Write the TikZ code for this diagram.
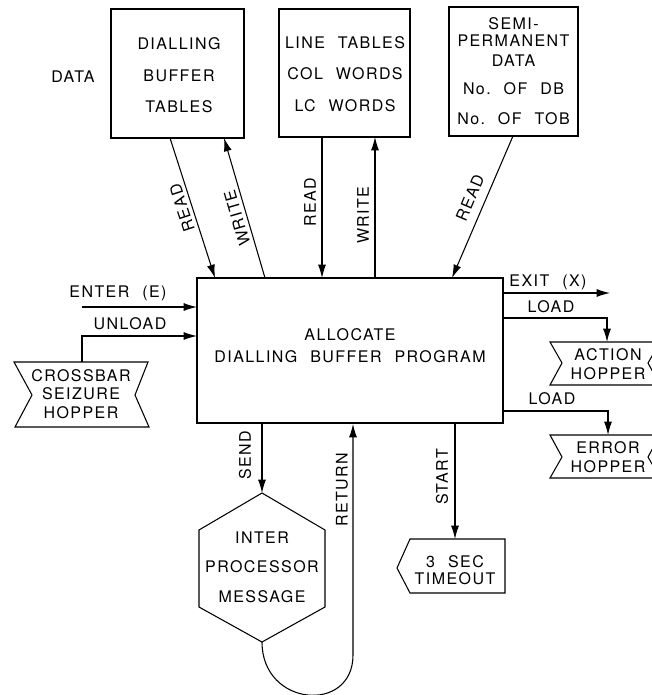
\documentclass[tikz,border=0pt]{standalone}
\usepackage{fontspec}
\setmainfont{TeX Gyre Heros}[LetterSpace=9,WordSpace=2.2]
\usetikzlibrary{arrows.meta}
\newcommand\dfont{\fontsize{12}{14}\selectfont}
\begin{document}
\begin{tikzpicture}[x=0.75pt,y=-0.75pt,line width=0.8pt,
  box/.style={draw,rectangle,inner sep=0pt},
  txt/.style={font=\dfont,align=center,inner sep=0pt},
  arr/.style={-{Latex[length=10pt,width=6pt]}}]
\useasboundingbox (0,0) rectangle (652,695);
\clip (0,0) rectangle (652,695);

% ---- boxes ----
\node[box,minimum width=99.75pt,minimum height=96.75pt] (db) at (177.5,73.5) {};
\node[txt] (dbt) at (179,75) {DIALLING\\[10pt]BUFFER\\[9pt]TABLES};
\node[txt] (data) at (73,77) {DATA};

\node[box,minimum width=98.25pt,minimum height=96pt] (lt) at (344.5,73) {};
\node[txt] (ltt) at (345,74) {LINE TABLES\\[9.5pt]COL WORDS\\[9.5pt]LC WORDS};

\node[box,minimum width=96.75pt,minimum height=96.75pt] (sp) at (513.5,71.5) {};
\node[txt] (spt) at (513.5,71) {SEMI-\\[-1pt]PERMANENT\\[1pt]DATA\\[7pt]No.\ OF DB\\[8.5pt]No.\ OF TOB};

\node[box,minimum width=229.5pt,minimum height=108.75pt] (main) at (350,350.5) {};
\node[txt] (maint) at (350,346) {ALLOCATE\\[2.5pt]DIALLING BUFFER PROGRAM};

% ---- top connectors ----
\coordinate (dbR) at (170,138); \coordinate (mR1) at (215,278);
\coordinate (mW1) at (265,278); \coordinate (dbW) at (224,138);
\coordinate (ltR) at (322,137); \coordinate (mR2) at (322,278);
\coordinate (mW2) at (375,278); \coordinate (ltW) at (375,137);
\coordinate (spR) at (513,136); \coordinate (mR3) at (452,278);
\draw[arr] (dbR) -- (mR1);
\draw[arr] (mW1) -- (dbW);
\draw[arr] (ltR) -- (mR2);
\draw[arr] (mW2) -- (ltW);
\draw[arr] (spR) -- (mR3);
\node[txt,rotate=108] (lr1) at (182,208) {READ};
\node[txt,rotate=106] (lw1) at (237,218) {WRITE};
\node[txt,rotate=90] (lr2) at (310,202) {READ};
\node[txt,rotate=90] (lw2) at (363,215) {WRITE};
\node[txt,rotate=67] (lr3) at (470,198) {READ};

% ---- left side ----
\coordinate (enS) at (82,307); \coordinate (mE) at (197,307);
\draw[arr] (enS) -- (mE);
\node[txt] (lenter) at (118,293) {ENTER (E)};
\draw (14,362) -- (148,362) -- (135,395) -- (149,427) -- (15,427) -- (32,395) -- cycle;
\node[txt] (xbt) at (81,394) {CROSSBAR\\[0pt]SEIZURE\\[0pt]HOPPER};
\coordinate (xbT) at (82,362); \coordinate (mU) at (197,336);
\draw[arr] (xbT) |- (mU);
\node[txt] (lunload) at (130,324) {UNLOAD};

% ---- right side ----
\coordinate (mX) at (503,293); \coordinate (xE) at (610,293);
\draw[arr] (mX) -- (xE);
\node[txt] (lexit) at (548,282) {EXIT (X)};
\draw (662,342) -- (550,342) -- (562,363) -- (550,385) -- (662,385);
\draw (660,342) -- (648,363) -- (660,385);
\node[txt] (aht) at (608,364) {ACTION\\[0pt]HOPPER};
\coordinate (mL1) at (503,318); \coordinate (ahT) at (607,342);
\draw[arr] (mL1) -| (ahT);
\node[txt] (lload1) at (551,307) {LOAD};
\draw (662,435) -- (550,435) -- (562,457) -- (550,478) -- (662,478);
\draw (660,435) -- (648,457) -- (660,478);
\node[txt] (eht) at (608,457) {ERROR\\[0pt]HOPPER};
\coordinate (mL2) at (503,411); \coordinate (ehT) at (608,435);
\draw[arr] (mL2) -| (ehT);
\node[txt] (lload2) at (552,399) {LOAD};

% ---- bottom ----
\draw (262,493) -- (325,530) -- (325,607) -- (262,642) -- (199,607) -- (199,530) -- cycle;
\node[txt] (ipm) at (262,567) {INTER\\[8pt]PROCESSOR\\[8pt]MESSAGE};
\coordinate (mS) at (262,424); \coordinate (hxT) at (262,493);
\draw[arr] (mS) -- (hxT);
\node[txt,rotate=90] (lsend) at (245,455) {SEND};
\coordinate (hxB) at (262,642); \coordinate (mRt) at (353,424);
\draw[arr] (hxB) .. controls (262,707) and (353,714) .. (353,655) -- (mRt);
\node[txt,rotate=90] (lret) at (342,490) {RETURN};

\draw (397,568) -- (410,539) -- (505,539) -- (505,593) -- (410,593) -- cycle;
\node[txt] (tot) at (455,570) {3 SEC\\[-1pt]TIMEOUT};
\coordinate (mSt) at (455,424); \coordinate (toT) at (455,539);
\draw[arr] (mSt) -- (toT);
\node[txt,rotate=90] (lstart) at (442,477) {START};
\end{tikzpicture}
\end{document}
